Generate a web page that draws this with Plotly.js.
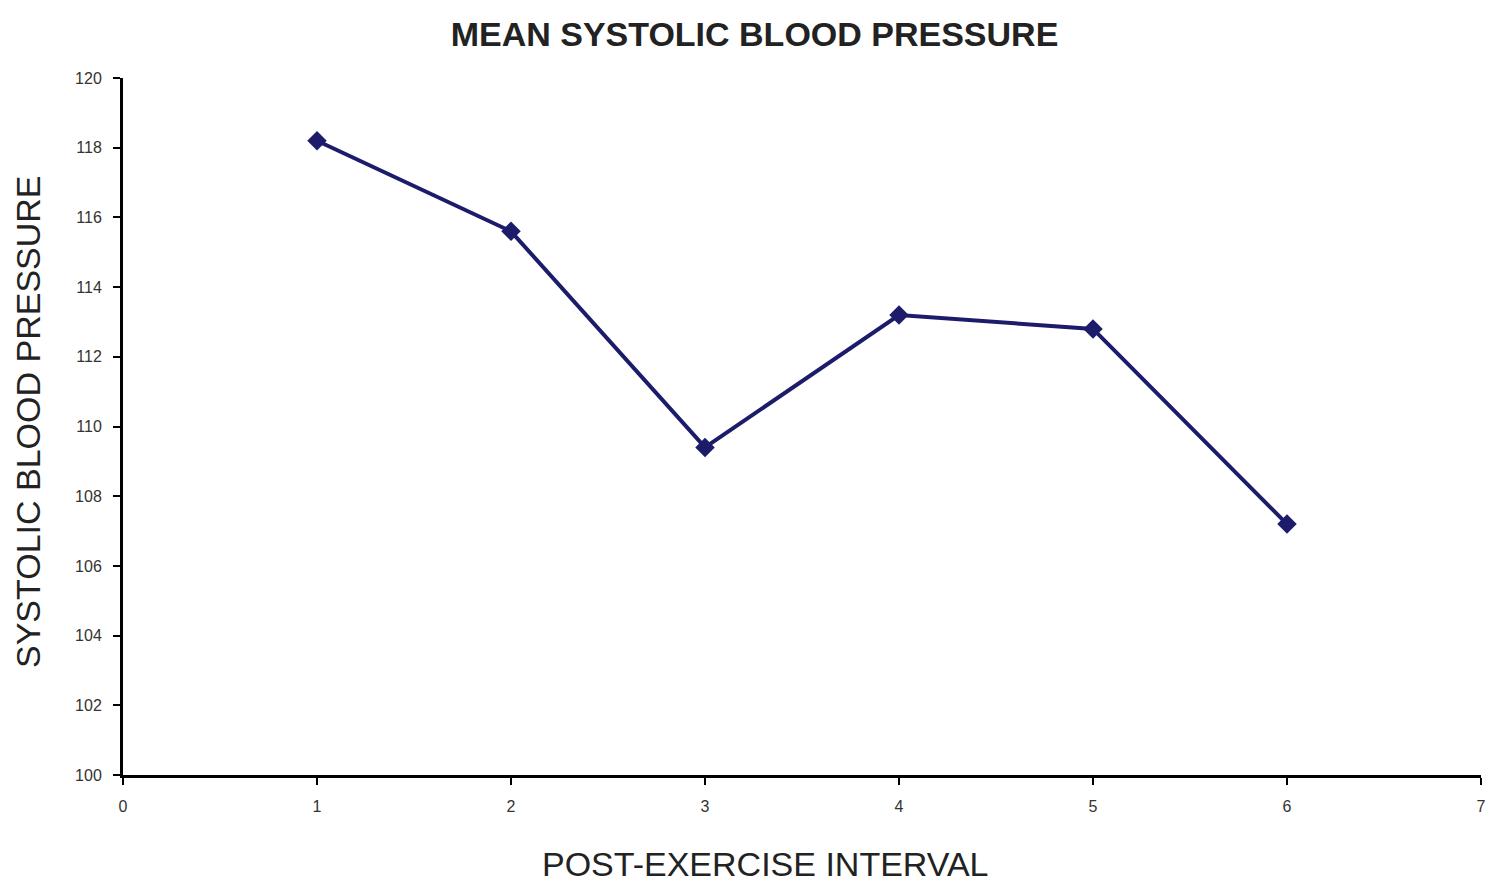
<!DOCTYPE html>
<html><head><meta charset="utf-8">
<script src="https://cdn.plot.ly/plotly-3.0.1.min.js"></script>
<style>html,body{margin:0;padding:0;background:#fff}</style>
</head><body>
<div id="chart" style="width:1500px;height:891px"></div>
<script>
const intervals = [1, 2, 3, 4, 5, 6];
const meanSystolic = [118.2, 115.6, 109.4, 113.2, 112.8, 107.2];
const xTicks = [0, 1, 2, 3, 4, 5, 6, 7];
const yTicks = [100, 102, 104, 106, 108, 110, 112, 114, 116, 118, 120];
const chartTitle = 'MEAN SYSTOLIC BLOOD PRESSURE';
const xTitle = 'POST-EXERCISE INTERVAL';
const yTitle = 'SYSTOLIC BLOOD PRESSURE';

const titleFont = {family: 'Liberation Sans, Arial', size: 34, color: '#222'};

Plotly.newPlot('chart', [{
  x: intervals, y: meanSystolic, type: 'scatter', mode: 'lines+markers',
  line: {color: '#1c1c6b', width: 4},
  marker: {symbol: 'diamond', size: 15, color: '#1c1c6b'},
  cliponaxis: false
}], {
  width: 1500, height: 891,
  margin: {l: 123, r: 19, t: 78, b: 116},
  paper_bgcolor: '#fff', plot_bgcolor: '#fff',
  showlegend: false,
  title: {text: chartTitle, x: 0.503, xanchor: 'center', y: 0.962, yanchor: 'middle',
    font: {family: 'Liberation Sans Narrow, Arial Narrow, Liberation Sans, Arial', size: 34, color: '#222', weight: 'bold'}},
  xaxis: {range: [0, 7], tickvals: xTicks, ticktext: xTicks.map(String), showgrid: false, zeroline: false,
    showline: true, linecolor: '#000', linewidth: 3, ticks: 'outside', ticklen: 7, tickwidth: 2, tickcolor: '#000',
    ticklabelstandoff: 8,
    tickfont: {family: 'Liberation Sans, Arial', size: 16, color: '#333'}},
  yaxis: {range: [100, 120], tickvals: yTicks, showgrid: false, zeroline: false,
    showline: true, linecolor: '#000', linewidth: 3, ticks: 'outside', ticklen: 7, tickwidth: 2, tickcolor: '#000',
    ticklabelstandoff: 8,
    tickfont: {family: 'Liberation Sans, Arial', size: 16, color: '#333'}},
  annotations: [
    {text: xTitle, xref: 'paper', yref: 'paper', x: (765 - 123) / 1358, y: -(864 - 775) / 697,
     xanchor: 'center', yanchor: 'middle', showarrow: false, font: titleFont},
    {text: yTitle, xref: 'paper', yref: 'paper', x: -(123 - 28) / 1358, y: (775 - 422) / 697,
     xanchor: 'center', yanchor: 'middle', textangle: -90, showarrow: false, font: titleFont}
  ]
}, {displayModeBar: false});
</script>
</body></html>
